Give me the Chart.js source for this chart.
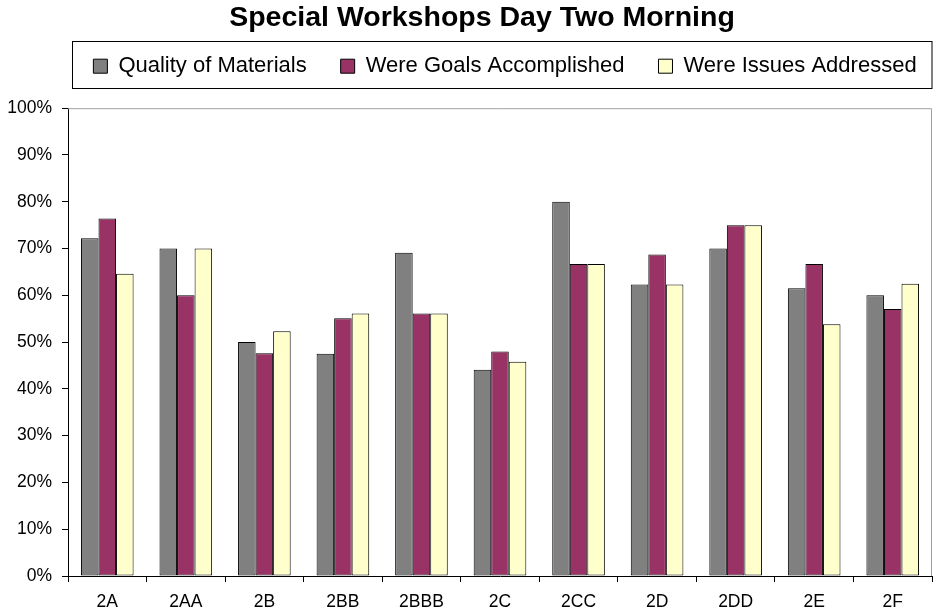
<!DOCTYPE html>
<html>
<head>
    <title>Special Workshops Day Two Morning</title>
    <script src="https://cdn.jsdelivr.net/npm/chart.js"></script>
    <style>
        body {
            margin: 0;
            background: #fff;
        }

        canvas {
            display: block;
        }
    </style>
</head>
<body>
<canvas id="workshopChart" width="934" height="615"></canvas>
<script>
    const workshops = ['2A', '2AA', '2B', '2BB', '2BBB', '2C', '2CC', '2D', '2DD', '2E', '2F'];
    const qualityOfMaterials = [72.2, 70, 50, 47.5, 69.1, 44.1, 80, 62.3, 70, 61.5, 60];
    const goalsAccomplished = [76.4, 60, 47.6, 55.1, 56.1, 48, 66.7, 68.7, 75, 66.7, 57.1];
    const issuesAddressed = [64.6, 70, 52.3, 56.1, 56.1, 45.8, 66.7, 62.3, 75, 53.8, 62.5];
    const percentTicks = [0, 10, 20, 30, 40, 50, 60, 70, 80, 90, 100];

    const fontFamily = '"Liberation Sans", Arial, sans-serif';

    // legend gets extra room below it, and a framed box like the original
    const legendFrame = {
        id: 'legendFrame',
        beforeLayout(chart) {
            const legend = chart.legend;
            if (legend && !legend._patched) {
                const fit = legend.fit;
                legend.fit = function () {
                    fit.call(this);
                    this.height = 87;
                };
                legend._patched = true;
            }
        },
        afterLayout(chart) {
            // title and legend sit a little right of the canvas centre
            if (chart.titleBlock) {
                chart.titleBlock.left = 32;
            }
            if (chart.legend) {
                chart.legend.left = 30;
                chart.legend.right = 980;
            }
        },
        beforeDatasetsDraw(chart) {
            const {ctx, chartArea} = chart;
            ctx.save();
            ctx.strokeStyle = '#a0a0a0';
            ctx.lineWidth = 1;
            ctx.beginPath();
            ctx.moveTo(chartArea.left, chartArea.top + 0.5);
            ctx.lineTo(chartArea.right - 0.5, chartArea.top + 0.5);
            ctx.lineTo(chartArea.right - 0.5, chartArea.bottom);
            ctx.stroke();
            ctx.restore();
        },
        afterDraw(chart) {
            const {ctx, chartArea} = chart;
            ctx.save();
            ctx.strokeStyle = '#000';
            ctx.lineWidth = 1;
            ctx.strokeRect(72.5, 41.5, chartArea.right - 72.5, 47);
            ctx.restore();
        }
    };

    const ctx = document.getElementById('workshopChart').getContext('2d');

    const workshopChart = new Chart(ctx, {
        type: 'bar',
        data: {
            labels: workshops,
            datasets: [
                {
                    label: 'Quality of Materials',
                    data: qualityOfMaterials,
                    backgroundColor: '#808080',
                    borderColor: '#000',
                    borderWidth: 1,
                    borderSkipped: false
                },
                {
                    label: 'Were Goals Accomplished',
                    data: goalsAccomplished,
                    backgroundColor: '#993366',
                    borderColor: '#000',
                    borderWidth: 1,
                    borderSkipped: false
                },
                {
                    label: 'Were Issues Addressed',
                    data: issuesAddressed,
                    backgroundColor: '#FFFFCC',
                    borderColor: '#000',
                    borderWidth: 1,
                    borderSkipped: false
                }
            ]
        },
        options: {
            responsive: false,
            animation: false,
            layout: {
                padding: {left: 0, right: 2, top: 0, bottom: 0}
            },
            datasets: {
                bar: {
                    categoryPercentage: 0.67,
                    barPercentage: 1
                }
            },
            plugins: {
                title: {
                    display: true,
                    text: 'Special Workshops Day Two Morning',
                    color: '#000',
                    font: {family: fontFamily, size: 28.5, weight: 'bold'},
                    padding: {top: 1, bottom: -14}
                },
                legend: {
                    display: true,
                    fullSize: true,
                    labels: {
                        color: '#000',
                        font: {family: fontFamily, size: 22},
                        boxWidth: 14,
                        boxHeight: 14,
                        padding: 34
                    }
                },
                tooltip: {enabled: false}
            },
            scales: {
                x: {
                    grid: {
                        offset: true,
                        drawOnChartArea: false,
                        color: '#000',
                        tickLength: 6
                    },
                    border: {color: '#000', width: 1},
                    ticks: {
                        color: '#000',
                        padding: 10,
                        maxRotation: 0,
                        font: {family: fontFamily, size: 17.5}
                    },
                    afterFit(scale) {
                        scale.height = 39;
                    }
                },
                y: {
                    min: 0,
                    max: 100,
                    grid: {
                        drawOnChartArea: false,
                        color: '#000',
                        tickLength: 6
                    },
                    border: {color: '#000', width: 1},
                    afterBuildTicks(scale) {
                        scale.ticks = percentTicks.map(v => ({value: v}));
                    },
                    ticks: {
                        color: '#000',
                        padding: 10,
                        font: {family: fontFamily, size: 17.5},
                        callback: value => value + '%'
                    },
                    afterFit(scale) {
                        scale.width = 68;
                    }
                }
            }
        },
        plugins: [legendFrame]
    });
</script>
</body>
</html>
